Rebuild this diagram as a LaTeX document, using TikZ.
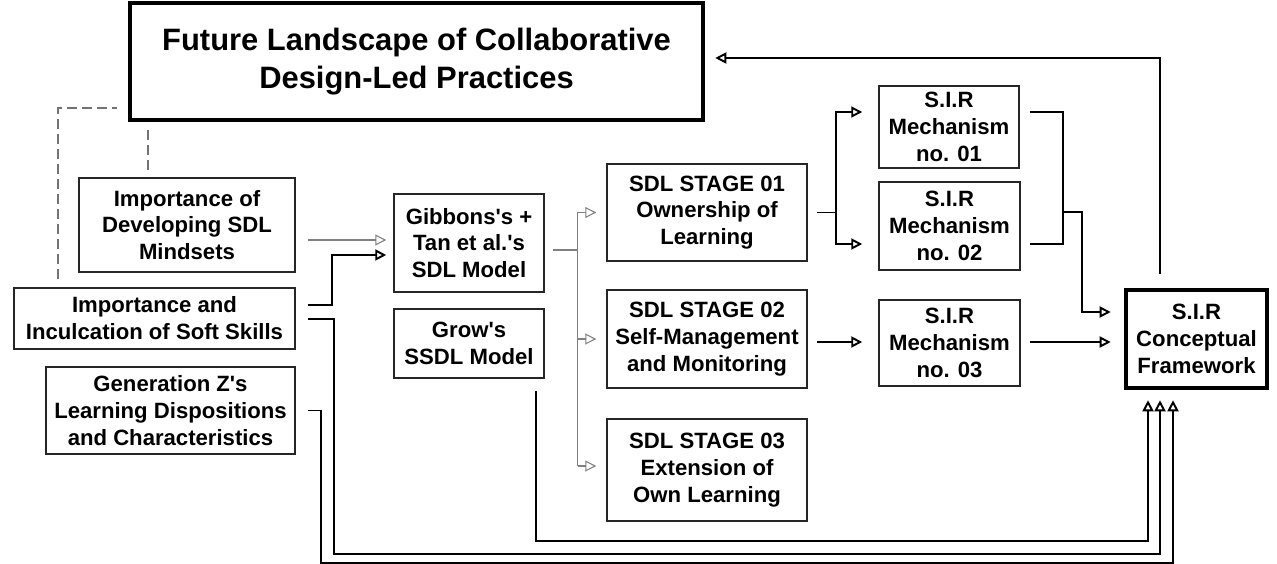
\documentclass[tikz,border=0pt]{standalone}
\usepackage{fontspec}
\setmainfont{Liberation Sans}
\usetikzlibrary{arrows.meta,calc}
\newcommand\boxfont{\fontsize{12.6}{15.3}\selectfont\bfseries}
\newcommand\titlefont{\fontsize{17.6}{21.4}\selectfont\bfseries}
\newcommand\apos{\textquotesingle}
\begin{document}
\begin{tikzpicture}[x=0.02cm, y=-0.02cm,
    box/.style={draw=black!85, line width=0.85pt, align=center, inner sep=0pt, font=\boxfont},
    boxsize/.style 2 args={minimum width=#1*0.02cm, minimum height=#2*0.02cm},
    thickbox/.style={box, draw=black, line width=2.6pt},
    link/.style={line width=1.1pt},
    graylink/.style={draw=black!50, line width=0.6pt},
    openarrow/.style={-{Triangle[open,length=0.22cm,width=0.22cm]}},
    dashline/.style={draw=black!55, line width=0.8pt, dash pattern=on 0.2cm off 0.1cm}]
    \useasboundingbox (0,0) rectangle (1277,564);

    % boxes
    \node[thickbox, boxsize={573}{117}, font=\titlefont] (title) at (416.5,61.5)
        {Future Landscape of Collaborative\\Design-Led Practices};
    \node[box, boxsize={216}{94}] (mind) at (187,225) {Importance of\\Developing SDL\\Mindsets};
    \node[box, boxsize={281}{61}] (inc) at (154.5,318.5) {Importance and\\Inculcation of Soft Skills};
    \node[box, boxsize={249}{87}] (genz) at (170.5,410.5)
        {Generation Z\apos s\\Learning Dispositions\\and Characteristics};
    \node[box, boxsize={150}{98}] (gib) at (469,243) {Gibbons\apos s +\\Tan et al.\apos s\\SDL Model};
    \node[box, boxsize={150}{69}] (grow) at (469,343.5) {Grow\apos s\\SSDL Model};
    \node[box, boxsize={200}{97}] (st1) at (707,212.5) {SDL STAGE 01\\Ownership of\\Learning};
    \node[box, boxsize={200}{98}] (st2) at (707,339) {SDL STAGE 02\\Self-Management\\and Monitoring};
    \node[box, boxsize={200}{102}] (st3) at (707,470) {SDL STAGE 03\\Extension of\\Own Learning};
    \node[box, boxsize={140}{82}] (m1) at (949,127) {S.I.R\\Mechanism\\no. 01};
    \node[box, boxsize={141}{88}] (m2) at (949.5,226) {S.I.R\\Mechanism\\no. 02};
    \node[box, boxsize={141}{86}] (m3) at (949.5,343) {S.I.R\\Mechanism\\no. 03};
    \node[thickbox, boxsize={141}{98}] (fw) at (1196.5,339) {S.I.R\\Conceptual\\Framework};

    % dashed links to the title
    \draw[dashline] ($(inc.north)+(-96.5,-8)$) |- ($(title.west)+(-11,46.5)$);
    \draw[dashline] ($(title.south)+(-268.5,8)$) -- ($(mind.north)+(-39,-7)$);

    % into the SDL model
    \draw[graylink, openarrow] ($(mind.east)+(12,15)$) -- ($(gib.west)+(-7,-3)$);
    \draw[link, openarrow] ($(inc.east)+(12,-13.5)$) -| ($(gib.west)+(-61,12)$) -- ($(gib.west)+(-7,12)$);

    % the three SDL stages
    \draw[graylink] ($(gib.east)+(8,7)$) -- ++(25,0) coordinate (fork);
    \draw[graylink] (fork |- st1.west) -- ($(fork |- st3.west)+(0,-4)$);
    \foreach \s in {st1,st2}
        \draw[graylink, openarrow] (fork |- \s.west) -- ($(\s.west)+(-10,0)$);
    \draw[graylink, openarrow] ($(fork |- st3.west)+(0,-4)$) -- ($(st3.west)+(-10,-4)$);

    % stages to mechanisms
    \draw[link] ($(st1.east)+(9,0)$) -- ++(19,0) coordinate (split);
    \draw[link, openarrow] (split) |- ($(m1.west)+(-16,-15)$);
    \draw[link, openarrow] (split) |- ($(m2.west)+(-16,18)$);
    \draw[link, openarrow] ($(st2.east)+(9,3)$) -- ($(m3.west)+(-16,-1)$);

    % mechanisms to the framework
    \draw[link] ($(m1.east)+(10,-15)$) -| ($(m2.east)+(42,18)$) -- ($(m2.east)+(9,18)$);
    \draw[link, openarrow] ($(m2.east)+(42,-14)$) -- ++(19,0) |- ($(fw.west)+(-13,-27)$);
    \draw[link, openarrow] ($(m3.east)+(9,-1)$) -- ($(fw.west)+(-13,3)$);

    % feeding the framework from below
    \draw[link, openarrow] ($(grow.south)+(67,12)$) |- ($(fw.south)+(-48.5,151)$) -- ($(fw.south)+(-48.5,10)$);
    \draw[link, openarrow] ($(inc.east)+(12,0.5)$) -- ++(26,0) |- ($(fw.south)+(-36.5,164)$) -- ($(fw.south)+(-36.5,10)$);
    \draw[link, openarrow] ($(genz.east)+(12,0)$) -- ++(13,0) |- ($(fw.south)+(-23.5,173)$) -- ($(fw.south)+(-23.5,10)$);

    % back to the title
    \draw[link, openarrow] ($(fw.north)+(-36.5,-14)$) |- ($(title.east)+(10,-3.5)$);
\end{tikzpicture}
\end{document}
